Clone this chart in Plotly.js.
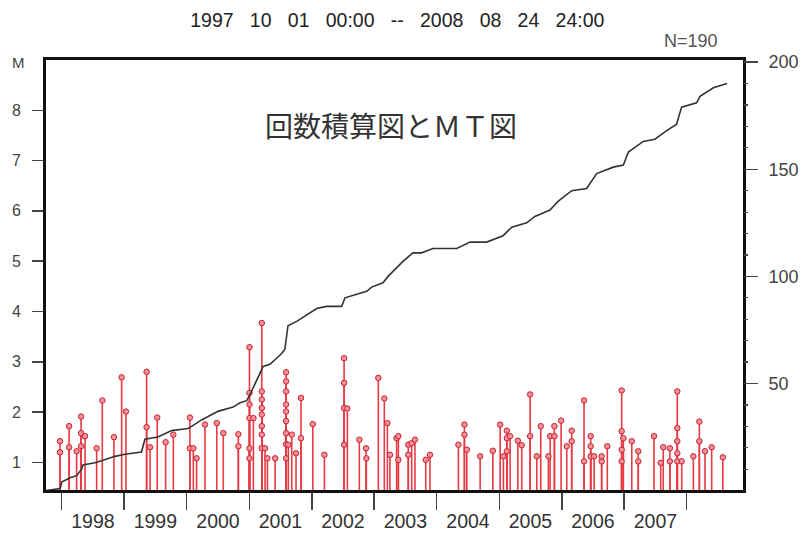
<!DOCTYPE html>
<html>
<head>
<meta charset="utf-8">
<script src="https://cdn.plot.ly/plotly-3.0.1.min.js"></script>
<style>html,body{margin:0;padding:0;background:#fff;}#chart{width:801px;height:535px;}</style>
</head>
<body>
<div id="chart"></div>
<script>
// ---- data ----
const chartTitle = "1997\u00a0\u00a0\u00a010\u00a0\u00a0\u00a001\u00a0\u00a0\u00a000:00\u00a0\u00a0\u00a0--\u00a0\u00a0\u00a02008\u00a0\u00a0\u00a008\u00a0\u00a0\u00a024\u00a0\u00a0\u00a024:00";
const innerTitle = "回数積算図とＭＴ図";
const countLabel = "N=190";
const yearLabels = ["1998","1999","2000","2001","2002","2003","2004","2005","2006","2007"];
const yearBoundaries = ["1998-01-01","1999-01-01","2000-01-01","2001-01-01","2002-01-01","2003-01-01","2004-01-01","2005-01-01","2006-01-01","2007-01-01","2008-01-01"];
const magTicks = [1,2,3,4,5,6,7,8];
const countTicks = [50,100,150,200];
const countMinorTicks = [10,20,30,40,60,70,80,90,110,120,130,140,160,170,180,190];

// event times (decimal years) and magnitudes
const eventYear = [
 1997.974,1997.974,1998.118,1998.118,1998.241,1998.310,1998.310,1998.310,1998.374,1998.561,
 1998.651,1998.838,1998.961,1999.030,1999.361,1999.361,1999.414,1999.531,1999.665,1999.787,
 2000.054,2000.054,2000.107,2000.161,2000.294,2000.481,2000.587,2000.827,2000.827,2001.003,
 2001.003,2001.003,2001.003,2001.003,2001.003,2001.067,2001.201,2001.201,2001.201,2001.201,
 2001.201,2001.201,2001.201,2001.201,2001.254,2001.291,2001.414,2001.590,2001.590,2001.590,
 2001.590,2001.590,2001.590,2001.590,2001.590,2001.590,2001.627,2001.681,2001.750,2001.830,
 2001.830,2002.017,2002.203,2002.518,2002.518,2002.518,2002.518,2002.571,2002.763,2002.870,
 2002.875,2003.067,2003.163,2003.211,2003.254,2003.361,2003.387,2003.387,2003.547,2003.547,
 2003.601,2003.654,2003.825,2003.894,2004.347,2004.443,2004.443,2004.481,2004.694,2004.897,
 2005.014,2005.067,2005.121,2005.121,2005.121,2005.174,2005.297,2005.361,2005.494,2005.494,
 2005.601,2005.665,2005.787,2005.814,2005.883,2005.883,2005.990,2006.081,2006.161,2006.161,
 2006.358,2006.358,2006.465,2006.465,2006.465,2006.518,2006.641,2006.641,2006.731,2006.961,
 2006.961,2006.961,2006.961,2006.987,2007.121,2007.227,2007.227,2007.478,2007.585,2007.627,
 2007.734,2007.734,2007.851,2007.851,2007.851,2007.851,2007.851,2007.921,2008.107,2008.203,
 2008.203,2008.294,2008.401,2008.577
];
const eventMag = [
 1.42,1.20,1.72,1.30,1.22,1.91,1.58,1.32,1.52,1.28,
 2.23,1.50,2.69,2.01,2.80,1.70,1.30,1.89,1.40,1.55,
 1.89,1.28,1.28,1.08,1.75,1.78,1.58,1.56,1.32,3.29,
 2.38,2.15,1.88,1.28,1.08,1.88,3.77,2.41,2.25,2.08,
 1.95,1.72,1.55,1.28,1.28,1.08,1.08,2.79,2.61,2.41,
 2.15,2.01,1.82,1.58,1.36,1.08,1.35,1.55,1.18,2.28,
 1.48,1.76,1.15,3.07,2.58,2.08,1.35,2.07,1.45,1.28,
 1.08,2.68,2.27,1.78,1.15,1.48,1.52,1.05,1.15,1.35,
 1.38,1.45,1.05,1.15,1.35,1.75,1.55,1.25,1.12,1.23,
 1.75,1.12,1.63,1.48,1.22,1.52,1.43,1.34,2.35,1.52,
 1.12,1.72,1.12,1.52,1.72,1.52,1.83,1.32,1.63,1.42,
 2.23,1.02,1.52,1.32,1.12,1.12,1.02,1.12,1.32,2.43,
 1.62,1.25,1.02,1.48,1.42,1.22,1.02,1.52,0.99,1.30,
 1.28,1.02,2.41,1.68,1.42,1.18,1.02,1.02,1.12,1.81,
 1.42,1.22,1.30,1.10
];

// cumulative number of events
const cumDates = [
 "1997-10-01","1997-12-23","1998-01-01","1998-02-19","1998-03-29","1998-04-27","1998-05-05","1998-07-14","1998-08-22","1998-11-08",
 "1999-01-06","1999-04-12","1999-05-02","1999-07-17","1999-10-05","2000-01-09","2000-01-30","2000-03-28","2000-07-02","2000-08-12",
 "2000-09-28","2000-11-08","2000-12-17","2001-01-06","2001-02-14","2001-03-23","2001-05-02","2001-06-10","2001-07-09","2001-07-28",
 "2001-08-15","2001-10-05","2001-11-11","2002-01-09","2002-01-30","2002-03-29","2002-06-25","2002-07-14","2002-09-28","2002-11-18",
 "2002-12-17","2003-02-21","2003-03-23","2003-05-12","2003-06-18","2003-08-15","2003-10-05","2003-12-10","2004-04-27","2004-07-14",
 "2004-10-19","2005-01-23","2005-03-15","2005-06-10","2005-07-28","2005-10-24","2005-12-10","2006-02-28","2006-05-26","2006-07-24",
 "2006-10-29","2006-12-27","2007-01-25","2007-04-22","2007-06-29","2007-09-06","2007-11-03","2007-12-02","2008-02-28","2008-03-19",
 "2008-06-05","2008-08-24"
];
const cumCounts = [
 0,1,4,6,7,10,12,13,14,16,
 17,18,24,25,28,29,30,33,37,38,
 39,41,42,45,52,58,59,62,64,66,
 77,79,81,84,85,86,86,90,92,93,
 95,97,100,104,107,111,111,113,113,116,
 116,119,123,125,128,131,135,140,141,148,
 151,152,158,163,164,168,171,179,181,184,
 188,190
];

// ---- build traces ----
function yearToDate(y) {
  const yr = Math.floor(y);
  const a = Date.UTC(yr, 0, 1), b = Date.UTC(yr + 1, 0, 1);
  return new Date(a + (y - yr) * (b - a)).toISOString().slice(0, 10);
}
const magBase = 0.45;
const eventDates = eventYear.map(yearToDate);
const stemX = [], stemY = [];
eventDates.forEach((d, i) => { stemX.push(d, d, null); stemY.push(magBase, eventMag[i], null); });
const midYears = yearLabels.map(y => y + "-07-02");

const FONT = "Liberation Sans, Arial, sans-serif";

const traces = [
  { type: "scatter", mode: "lines", x: stemX, y: stemY, xaxis: "x", yaxis: "y",
    line: { color: "#e83a44", width: 1.6 }, hoverinfo: "skip", showlegend: false },
  { type: "scatter", mode: "markers", x: eventDates, y: eventMag, xaxis: "x", yaxis: "y",
    marker: { symbol: "circle", size: 5.5, color: "#f39098", line: { color: "#c8202e", width: 1 } },
    showlegend: false },
  { type: "scatter", mode: "lines", x: cumDates, y: cumCounts, xaxis: "x", yaxis: "y2",
    line: { color: "#333", width: 1.6, shape: "linear" }, showlegend: false }
];

const layout = {
  width: 801, height: 535,
  margin: { l: 46, r: 58, t: 60, b: 45 },
  paper_bgcolor: "#fff", plot_bgcolor: "#fff",
  font: { family: FONT, color: "#333" },
  showlegend: false,
  title: { text: chartTitle, x: 0.496, xanchor: "center", y: 0.962, yanchor: "middle",
           font: { family: FONT, size: 19.5, color: "#222" } },
  xaxis: {
    type: "date", range: ["1997-10-01", "2008-11-25"],
    tickmode: "array", tickvals: midYears, ticktext: yearLabels,
    ticks: "outside", ticklen: 12, tickcolor: "rgba(0,0,0,0)",
    minor: { tickmode: "array", tickvals: yearBoundaries, ticks: "outside", ticklen: 17,
             tickwidth: 1.5, tickcolor: "#444", showgrid: false },
    tickfont: { family: FONT, size: 19.5, color: "#333" },
    showline: true, mirror: true, linecolor: "#111", linewidth: 3,
    showgrid: false, zeroline: false
  },
  yaxis: {
    range: [0.45, 9.0], tickmode: "array", tickvals: magTicks, ticktext: magTicks.map(String),
    ticks: "outside", ticklen: 11, tickwidth: 1.5, tickcolor: "#444",
    ticklabelstandoff: 8,
    tickfont: { family: FONT, size: 16, color: "#444" },
    showline: true, mirror: true, linecolor: "#111", linewidth: 3,
    showgrid: false, zeroline: false
  },
  yaxis2: {
    overlaying: "y", side: "right", range: [0.3, 201],
    tickmode: "array", tickvals: countTicks, ticktext: countTicks.map(String),
    ticks: "outside", ticklen: 14, tickwidth: 1.5, tickcolor: "#444",
    minor: { tickmode: "array", tickvals: countMinorTicks, ticks: "outside", ticklen: 4,
             tickwidth: 1.2, tickcolor: "#444", showgrid: false },
    ticklabelstandoff: 7,
    tickfont: { family: FONT, size: 18, color: "#444" },
    showline: false, showgrid: false, zeroline: false
  },
  annotations: [
    { text: "M", xref: "paper", yref: "paper", x: -0.04, y: 0.995, xanchor: "center", yanchor: "middle",
      showarrow: false, font: { family: FONT, size: 15, color: "#444" } },
    { text: countLabel, xref: "paper", yref: "paper", x: 0.926, y: 1.044, xanchor: "center", yanchor: "middle",
      showarrow: false, font: { family: FONT, size: 18, color: "#555" } },
    { text: innerTitle, xref: "paper", yref: "paper", x: 0.495, y: 0.849, xanchor: "center", yanchor: "middle",
      showarrow: false, font: { family: "Noto Sans CJK JP, sans-serif", size: 28, color: "#333" } }
  ]
};

Plotly.newPlot("chart", traces, layout, { staticPlot: true, displayModeBar: false });
</script>
</body>
</html>
